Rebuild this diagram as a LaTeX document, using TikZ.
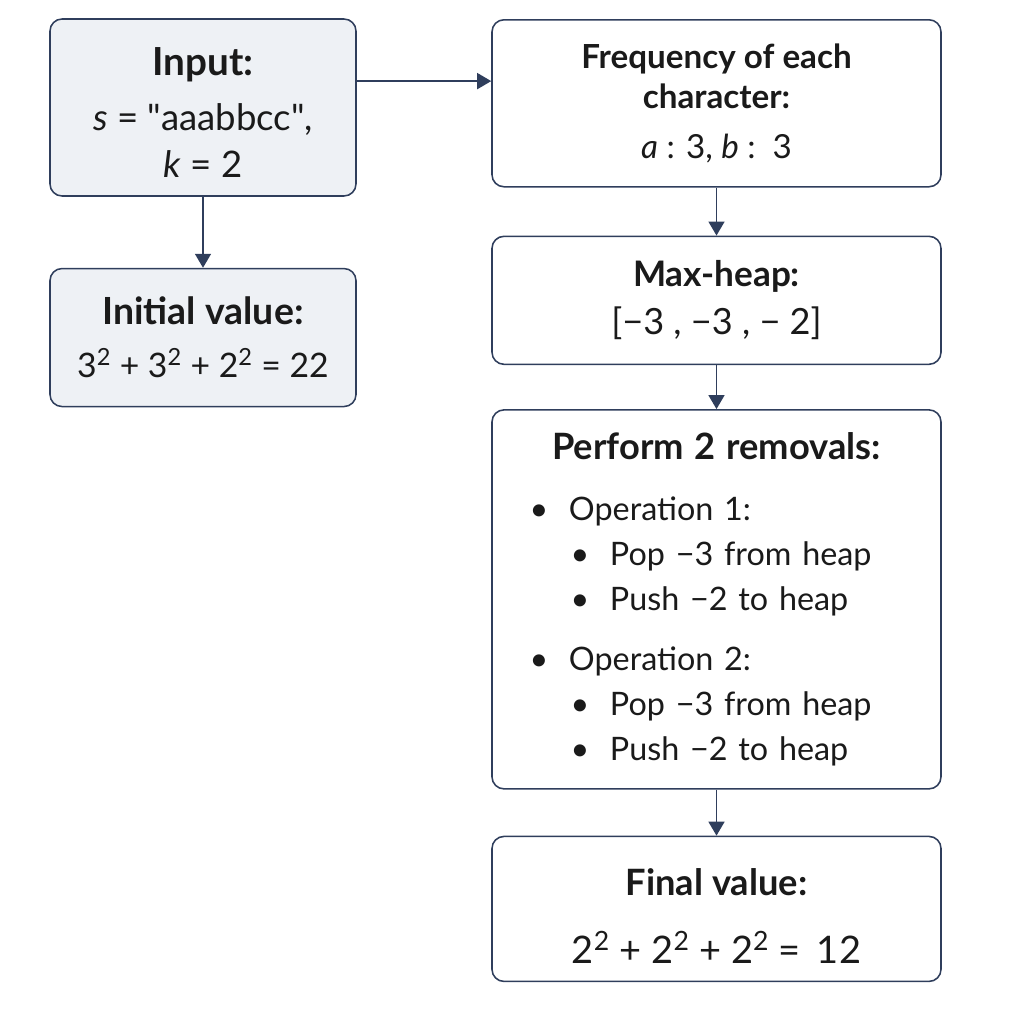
\documentclass[tikz,border=0pt]{standalone}
\usepackage{fontspec}
\setmainfont{Lato}
\usetikzlibrary{arrows.meta, positioning}
\definecolor{edge}{HTML}{2F3E5C}
\definecolor{pale}{HTML}{EEF1F5}
\definecolor{ink}{HTML}{1A1A1A}

\begin{document}
\begin{tikzpicture}[node distance={1.15cm}, text=ink,
    main/.style = {draw=edge, line width=1.1pt, rounded corners=0.3cm, align=center, inner sep=0pt, minimum width=11.225cm},
    side/.style = {main, fill=pale, minimum width=7.65cm},
    arr/.style = {draw=edge, line width=1.1pt, -{Triangle[width=0.4cm, length=0.35cm]}}]
 			\useasboundingbox (0,0) rectangle (25.6,-25.6);
 			\node[side, minimum height=4.425cm, font=\fontsize{26}{33.4}\selectfont] (input) at (5.075,-2.6875) {\fontsize{27.5}{33.4}\selectfont\textbf{Input:}\\[5.6pt] \textit{s} = \textquotedbl aaabbcc\textquotedbl,\\ \textit{k} = 2\\[-40.4pt]\mbox{}};
 			\node[side, minimum height=3.45cm, font=\fontsize{24}{37.6}\selectfont] (init) [below=1.775cm of input] {\fontsize{26.6}{37.6}\selectfont\textbf{Initial value:}\\ \fontsize{24}{37.6}\selectfont 3\textsuperscript{2} + 3\textsuperscript{2} + 2\textsuperscript{2} = 22};
 			\node[main, minimum height=4.175cm, font=\fontsize{23.6}{28.5}\selectfont, anchor=north] (freq) at (17.9125,-0.475) {\textbf{Frequency of each}\\ \textbf{character:}\\[7pt] \textit{a} : 3, \textit{b} :\, 3};
 			\node[main, minimum height=3.2cm, font=\fontsize{25}{34}\selectfont] (heap) [below=1.2cm of freq] {\textbf{Max-heap:}\\ \fontsize{25.7}{34}\selectfont[−3 , −3 , − 2]};
 			\node[main, minimum height=9.475cm, align=left, text width=11.225cm, font=\fontsize{23}{32}\selectfont] (remove) [below=1.1cm of heap] {\makebox[\linewidth]{\fontsize{25.8}{32}\selectfont\textbf{Perform 2 removals:}}\\[11pt]
 				\hspace*{1.175cm}\makebox[0pt]{•}\hspace*{0.75cm}Operation 1:\\
 				\hspace*{2.2cm}\makebox[0pt]{•}\hspace*{0.75cm}Pop −3 from heap\\
 				\hspace*{2.2cm}\makebox[0pt]{•}\hspace*{0.75cm}Push −2 to heap\\[11pt]
 				\hspace*{1.175cm}\makebox[0pt]{•}\hspace*{0.75cm}Operation 2:\\
 				\hspace*{2.2cm}\makebox[0pt]{•}\hspace*{0.75cm}Pop −3 from heap\\
 				\hspace*{2.2cm}\makebox[0pt]{•}\hspace*{0.75cm}Push −2 to heap};
 			\node[main, minimum height=3.625cm, font=\fontsize{25.8}{46}\selectfont] (final) [below=1.15cm of remove] {\textbf{Final value:}\\[2pt] \fontsize{27}{46}\selectfont 2\textsuperscript{2} + 2\textsuperscript{2} + 2\textsuperscript{2} =\, 12\\[-56pt]\mbox{}};

 			\draw[arr] ([yshift=0.66cm]input.east) -- ([yshift=0.66cm]input.east -| freq.west);
 			\draw[arr] (input) -- (init);
 			\draw[arr] (freq) -- (heap);
 			\draw[arr] (heap) -- (remove);
 			\draw[arr] (remove) -- (final);
 		\end{tikzpicture}
\end{document}
